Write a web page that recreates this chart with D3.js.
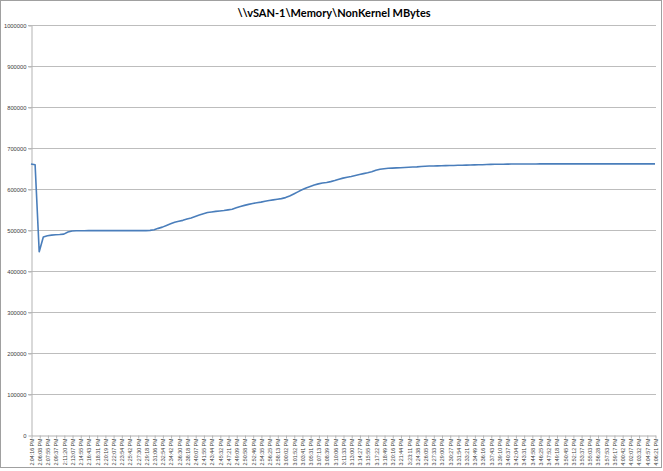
<!DOCTYPE html>
<html><head><meta charset="utf-8">
<script src="https://cdn.jsdelivr.net/npm/d3@7"></script>
<style>
html,body{margin:0;padding:0;background:#fff;}
svg{display:block;}
</style></head>
<body>
<svg id="chart" width="663" height="471"></svg>
<script>
const title = "\\\\vSAN-1\\Memory\\NonKernel MBytes";
const timeLabels = ["2:04:16 PM","2:06:08 PM","2:07:55 PM","2:09:37 PM","2:11:20 PM","2:13:07 PM","2:14:55 PM","2:16:43 PM","2:18:31 PM","2:20:19 PM","2:22:07 PM","2:23:54 PM","2:25:42 PM","2:27:30 PM","2:29:18 PM","2:31:06 PM","2:32:54 PM","2:34:42 PM","2:36:30 PM","2:38:18 PM","2:40:07 PM","2:41:55 PM","2:43:44 PM","2:45:32 PM","2:47:21 PM","2:49:09 PM","2:50:58 PM","2:52:46 PM","2:54:35 PM","2:56:25 PM","2:58:13 PM","3:00:02 PM","3:01:52 PM","3:03:41 PM","3:05:31 PM","3:07:13 PM","3:08:39 PM","3:10:06 PM","3:11:33 PM","3:13:00 PM","3:14:27 PM","3:15:55 PM","3:17:22 PM","3:18:49 PM","3:20:16 PM","3:21:44 PM","3:23:11 PM","3:24:38 PM","3:26:05 PM","3:27:33 PM","3:29:00 PM","3:30:27 PM","3:31:54 PM","3:33:21 PM","3:34:49 PM","3:36:16 PM","3:37:43 PM","3:39:10 PM","3:40:37 PM","3:42:04 PM","3:43:31 PM","3:44:58 PM","3:46:25 PM","3:47:52 PM","3:49:18 PM","3:50:45 PM","3:52:12 PM","3:53:37 PM","3:55:03 PM","3:56:28 PM","3:57:53 PM","3:59:17 PM","4:00:42 PM","4:02:07 PM","4:03:32 PM","4:04:57 PM","4:06:21 PM"];
// samples between labeled timestamps (2 samples per label step)
const samplesPerLabel = 2;
const nonKernelMB = [
661000,659000,447000,483000,486000,487500,488500,489000,490000,495000,
497500,498000,498300,498300,498500,498500,498500,498500,498500,498500,
498500,498500,498500,498500,498500,498500,498500,498500,498500,499000,
500500,504000,507000,511000,515000,519000,521500,523500,527000,529500,
533000,536500,539500,542500,544000,545500,546500,547500,549000,550500,
554000,557500,560000,562500,564500,566500,568000,570000,572000,573500,
575000,576500,579000,583000,588000,593000,598000,602500,606000,609500,
612500,614500,616000,618000,620500,624000,626500,628500,630500,633000,
635500,637500,639500,642000,645500,648000,649500,650500,651000,651500,
652000,652500,653000,653500,654000,655000,655500,656000,656200,656500,
656800,657000,657300,657500,657800,658000,658300,658500,658800,659000,
659300,659600,660000,660200,660400,660500,660700,660800,661000,661000,
661000,661100,661100,661100,661200,661200,661200,661200,661200,661200,
661300,661300,661300,661300,661300,661300,661300,661300,661300,661300,
661300,661300,661300,661300,661300,661300,661300,661300,661300,661300,
661300,661300,661300
];
const yTicks = [0,100000,200000,300000,400000,500000,600000,700000,800000,900000,1000000];

const W = 663, H = 471;
const m = {left:31, right:8, top:25, bottom:36};
const svg = d3.select("#chart");

// chart frame
svg.append("rect").attr("x",0.5).attr("y",0.5).attr("width",661).attr("height",467)
  .attr("fill","#fff").attr("stroke","#a0a0a0").attr("stroke-width",1);

const x = d3.scaleLinear().domain([0, nonKernelMB.length-1]).range([m.left, W-m.right]);
const y = d3.scaleLinear().domain([0, 1000000]).range([H-m.bottom, m.top]);

// gridlines
svg.append("g").selectAll("line").data(yTicks.filter(d=>d>0)).join("line")
  .attr("x1", m.left-3).attr("x2", W-m.right+1)
  .attr("y1", d=>Math.round(y(d))+0.5).attr("y2", d=>Math.round(y(d))+0.5)
  .attr("stroke","#bdbdbd").attr("stroke-width",1);

// y axis
const yAxis = svg.append("g").attr("transform",`translate(${m.left+0.5},0.5)`)
  .call(d3.axisLeft(y).tickValues(yTicks).tickFormat(d3.format("d")).tickSize(3).tickSizeOuter(0));
yAxis.select(".domain").attr("stroke","#b3b3b3");
yAxis.selectAll(".tick line").attr("stroke","#b3b3b3");
yAxis.selectAll(".tick text").attr("font-family","Liberation Sans, Arial, sans-serif")
  .attr("font-size","5.8px").attr("fill","#404040").attr("x",-5);

// x axis
const tickIdx = timeLabels.map((d,i)=>i*samplesPerLabel);
const xAxis = svg.append("g").attr("transform",`translate(0.5,${Math.round(y(0))+0.5})`)
  .call(d3.axisBottom(x).tickValues(tickIdx).tickFormat((d,i)=>timeLabels[i]).tickSize(3).tickSizeOuter(0));
xAxis.select(".domain").attr("stroke","#b3b3b3");
xAxis.selectAll(".tick line").attr("stroke","#b3b3b3");
xAxis.selectAll(".tick text")
  .attr("font-family","Liberation Sans, Arial, sans-serif").attr("font-size","5.3px").attr("fill","#404040")
  .attr("transform","rotate(-90)").attr("text-anchor","end")
  .attr("x",-3).attr("y",0).attr("dy","0.35em");

// line
const line = d3.line().x((d,i)=>x(i)).y(d=>y(d));
svg.append("path").datum(nonKernelMB).attr("d",line)
  .attr("fill","none").attr("stroke","#4a7ebb").attr("stroke-width",1.6).attr("stroke-linejoin","round");

// title
svg.append("text").attr("x",334).attr("y",17).attr("text-anchor","middle")
  .attr("font-family","Lato, Open Sans, sans-serif").attr("font-weight","bold").attr("font-size","11px")
  .attr("fill","#000").text(title);
</script>
</body></html>
